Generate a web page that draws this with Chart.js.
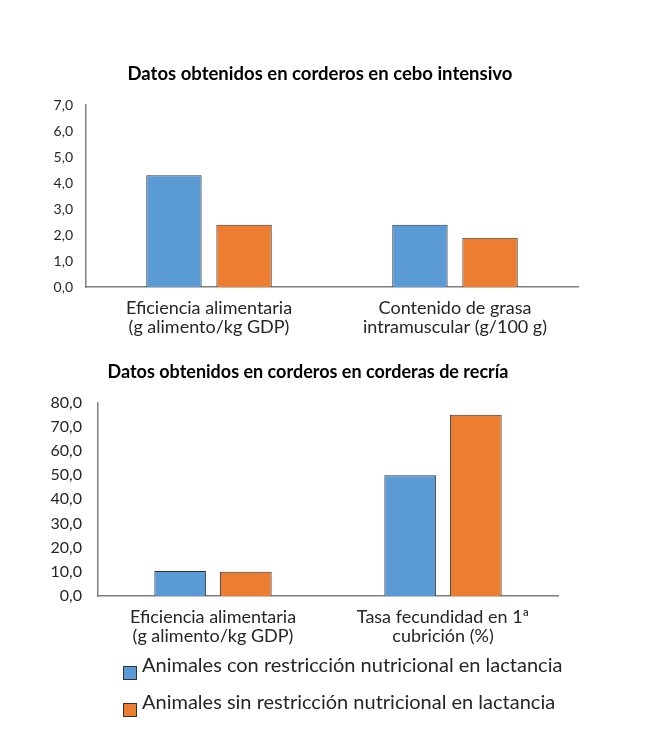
<!DOCTYPE html>
<html>
<head>
<meta charset="utf-8">
<script src="https://cdn.jsdelivr.net/npm/chart.js@4.4.0/dist/chart.umd.min.js"></script>
<style>
  body { margin: 0; background: #fff; font-family: Lato, sans-serif; }
  #page { position: relative; width: 668px; height: 735px; }
  .box { position: absolute; left: 0; }
  #legend { position: absolute; left: 123px; top: 650px; color: #262626; font-size: 20px; }
  .item { position: relative; height: 37px; }
  .swatch { position: absolute; left: 0; top: 16px; width: 12px; height: 12px; border: 1px solid #333; }
  .label { position: absolute; left: 19px; top: 2px; white-space: nowrap; }
</style>
</head>
<body>
<div id="page">
  <div class="box" style="top:55px;width:640px;height:292px"><canvas id="chart-cebo"></canvas></div>
  <div class="box" style="top:345px;width:616px;height:311px"><canvas id="chart-recria"></canvas></div>
  <div id="legend"></div>
</div>
<script>
const seriesNames = [
  "Animales con restricción nutricional en lactancia",
  "Animales sin restricción nutricional en lactancia",
];
const seriesColors = ["#5B9BD5", "#ED7D31"];

const ceboTitle = "Datos obtenidos en corderos en cebo intensivo";
const ceboCategories = [
  ["Eficiencia alimentaria", "(g alimento/kg GDP)"],
  ["Contenido de grasa", "intramuscular (g/100 g)"],
];
const ceboCon = [4.3, 2.4];
const ceboSin = [2.4, 1.9];
const ceboTicks = ["0,0", "1,0", "2,0", "3,0", "4,0", "5,0", "6,0", "7,0"];

const recriaTitle = "Datos obtenidos en corderos en corderas de recría";
const recriaCategories = [
  ["Eficiencia alimentaria", "(g alimento/kg GDP)"],
  ["Tasa fecundidad en 1ª", "cubrición (%)"],
];
const recriaCon = [10.3, 50.0];
const recriaSin = [10.0, 75.0];
const recriaTicks = ["0,0", "10,0", "20,0", "30,0", "40,0", "50,0", "60,0", "70,0", "80,0"];

Chart.defaults.font.family = "Lato, sans-serif";
Chart.defaults.color = "#262626";

function makeChart(canvasId, opts) {
  return new Chart(document.getElementById(canvasId), {
    type: "bar",
    data: {
      labels: opts.categories,
      datasets: [
        { label: seriesNames[0], data: opts.con, backgroundColor: seriesColors[0] },
        { label: seriesNames[1], data: opts.sin, backgroundColor: seriesColors[1] },
      ].map((ds) => ({
        ...ds,
        borderColor: "#333",
        borderWidth: 1,
        categoryPercentage: 0.57,
        barPercentage: 0.79,
      })),
    },
    options: {
      responsive: true,
      maintainAspectRatio: false,
      animation: false,
      layout: { padding: 0 },
      plugins: {
        legend: { display: false },
        tooltip: { enabled: false },
        title: {
          display: true,
          text: opts.title,
          color: "#000",
          font: { size: opts.titleSize, weight: "bold" },
          padding: { top: opts.titleTop, bottom: opts.titleBottom },
        },
      },
      scales: {
        x: {
          grid: { display: false },
          border: { color: "#7f7f7f", width: 1.5 },
          ticks: {
            font: { size: 18, lineHeight: 1.05 },
            padding: opts.catPad,
            maxRotation: 0,
            autoSkip: false,
          },
          afterFit: (scale) => { scale.height = opts.xHeight; },
        },
        y: {
          min: 0,
          max: opts.max,
          grid: { display: false, drawTicks: false },
          border: { color: "#7f7f7f", width: 1.5 },
          ticks: {
            stepSize: opts.step,
            autoSkip: false,
            font: { size: opts.tickSize },
            padding: opts.tickPad,
            callback: (value, index) => opts.ticks[index],
          },
          afterFit: (scale) => { scale.width = opts.yWidth; },
        },
        // empty right axis, only used to leave room on the right of the plot
        spacer: {
          type: "linear",
          position: "right",
          grid: { display: false, drawTicks: false },
          border: { display: false },
          ticks: { display: false },
          afterFit: (scale) => { scale.width = opts.rightGap; },
        },
      },
    },
  });
}

makeChart("chart-cebo", {
  title: ceboTitle, categories: ceboCategories, con: ceboCon, sin: ceboSin,
  ticks: ceboTicks, max: 7, step: 1, titleSize: 18.5,
  rightGap: 62, titleTop: 8, titleBottom: 20, yWidth: 86, xHeight: 60,
  tickSize: 14, tickPad: 13, catPad: 4,
});

makeChart("chart-recria", {
  title: recriaTitle, categories: recriaCategories, con: recriaCon, sin: recriaSin,
  ticks: recriaTicks, max: 80, step: 10, titleSize: 18,
  rightGap: 58, titleTop: 16, titleBottom: 20, yWidth: 98, xHeight: 60,
  tickSize: 16, tickPad: 16, catPad: 4,
});

const legend = document.getElementById("legend");
seriesNames.forEach((name, i) => {
  const item = document.createElement("div");
  item.className = "item";
  item.innerHTML = '<span class="swatch" style="background:' + seriesColors[i] + '"></span><span class="label">' + name + "</span>";
  legend.appendChild(item);
});
</script>
</body>
</html>
